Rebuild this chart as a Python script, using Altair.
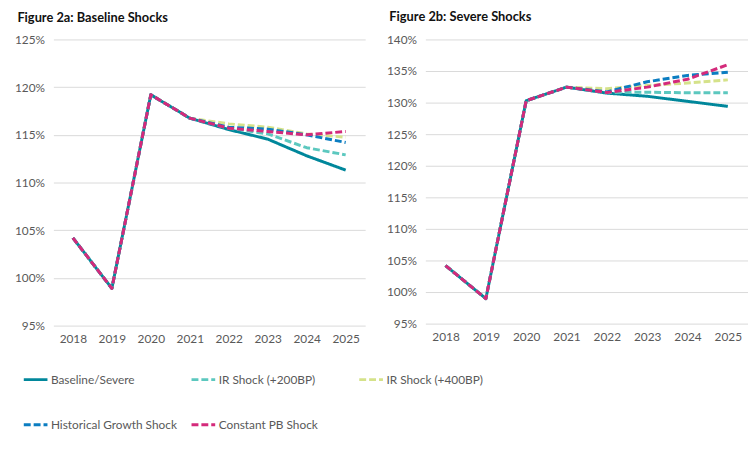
import altair as alt
import pandas as pd

years = [2018, 2019, 2020, 2021, 2022, 2023, 2024, 2025]
series_names = ["Baseline/Severe", "IR Shock (+200BP)", "IR Shock (+400BP)",
                "Historical Growth Shock", "Constant PB Shock"]
series_colors = ["#00879B", "#5CC8BF", "#D5E28A", "#0B7DC1", "#D42A7B"]
series_dashes = [[1, 0], [7, 3], [7, 3], [7, 3], [7, 3]]

# Figure 2a: Baseline Shocks (percent)
baseline_a = [104.2, 98.9, 119.2, 116.75, 115.55, 114.55, 112.8, 111.3]
ir200_a = [104.2, 98.9, 119.2, 116.75, 115.7, 115.1, 113.65, 112.9]
ir400_a = [104.2, 98.9, 119.2, 116.75, 116.15, 115.8, 115.1, 114.75]
hist_a = [104.2, 98.9, 119.2, 116.75, 115.8, 115.6, 115.0, 114.2]
pb_a = [104.2, 98.9, 119.2, 116.75, 115.7, 115.35, 115.0, 115.35]

# Figure 2b: Severe Shocks (percent)
baseline_b = [104.2, 98.95, 130.3, 132.45, 131.5, 131.0, 130.2, 129.4]
ir200_b = [104.2, 98.95, 130.3, 132.45, 131.6, 131.65, 131.55, 131.55]
ir400_b = [104.2, 98.95, 130.3, 132.45, 132.2, 132.7, 133.1, 133.6]
hist_b = [104.2, 98.95, 130.3, 132.45, 131.7, 133.3, 134.3, 134.8]
pb_b = [104.2, 98.95, 130.3, 132.45, 131.6, 132.45, 133.7, 136.0]

ticks_a = [95, 100, 105, 110, 115, 120, 125]
ticks_b = [95, 100, 105, 110, 115, 120, 125, 130, 135, 140]

FONT = "Lato"
GREY = "#595959"


def make_df(series_values):
    rows = []
    for idx, (name, vals) in enumerate(zip(series_names, series_values)):
        for y, v in zip(years, vals):
            rows.append({"year": str(y), "value": v, "series": name, "k": idx})
    return pd.DataFrame(rows)


df_a = make_df([baseline_a, ir200_a, ir400_a, hist_a, pb_a])
df_b = make_df([baseline_b, ir200_b, ir400_b, hist_b, pb_b])

color_scale = alt.Scale(domain=series_names, range=series_colors)
dash_scale = alt.Scale(domain=series_names, range=series_dashes)


def panel(df, title, ticks, width, height, title_dx, title_offset):
    return alt.Chart(df).mark_line(strokeWidth=3, strokeCap="butt", strokeJoin="round").encode(
        x=alt.X("year:O", title=None,
                axis=alt.Axis(labelAngle=0, domain=False, ticks=False, grid=False,
                              labelPadding=8, labelFontSize=12, labelColor=GREY, labelFont=FONT)),
        y=alt.Y("value:Q", title=None,
                scale=alt.Scale(domain=[ticks[0], ticks[-1]], nice=False, zero=False),
                axis=alt.Axis(values=ticks, labelExpr="datum.value + '%'", domain=False, ticks=False,
                              gridColor="#D9D9D9", gridWidth=1, labelPadding=9,
                              labelFontSize=12, labelColor=GREY, labelFont=FONT,
                              minExtent=35, maxExtent=35)),
        color=alt.Color("series:N", scale=color_scale, title=None,
                        sort=series_names),
        strokeDash=alt.StrokeDash("series:N", scale=dash_scale, title=None, sort=series_names),
        detail="k:O",
    ).properties(
        width=width, height=height,
        title=alt.TitleParams(title, anchor="start", frame="bounds", fontSize=13, font=FONT,
                              fontWeight="bold", color="#111111", offset=title_offset, dx=title_dx),
    )


left = panel(df_a, "Figure 2a: Baseline Shocks", ticks_a, 316, 290, 3, 8.5)
right = panel(df_b, "Figure 2b: Severe Shocks", ticks_b, 327, 288, 3, 10)

chart = alt.hconcat(left, right, spacing=21).resolve_scale(
    color="shared", strokeDash="shared"
).configure_legend(
    orient="none", legendX=-31.5, legendY=331, columns=3, direction="horizontal",
    gridAlign="all",
    symbolType="stroke", symbolSize=576, symbolStrokeWidth=3,
    labelFont=FONT, labelFontSize=12, labelColor=GREY, labelLimit=300,
    columnPadding=8, rowPadding=26, labelOffset=2,
).configure_view(stroke=None).properties(
    padding={"left": 6, "top": 0, "right": 0, "bottom": 0}
)

chart.save("out.html", embed_options={"renderer": "svg", "actions": False})
